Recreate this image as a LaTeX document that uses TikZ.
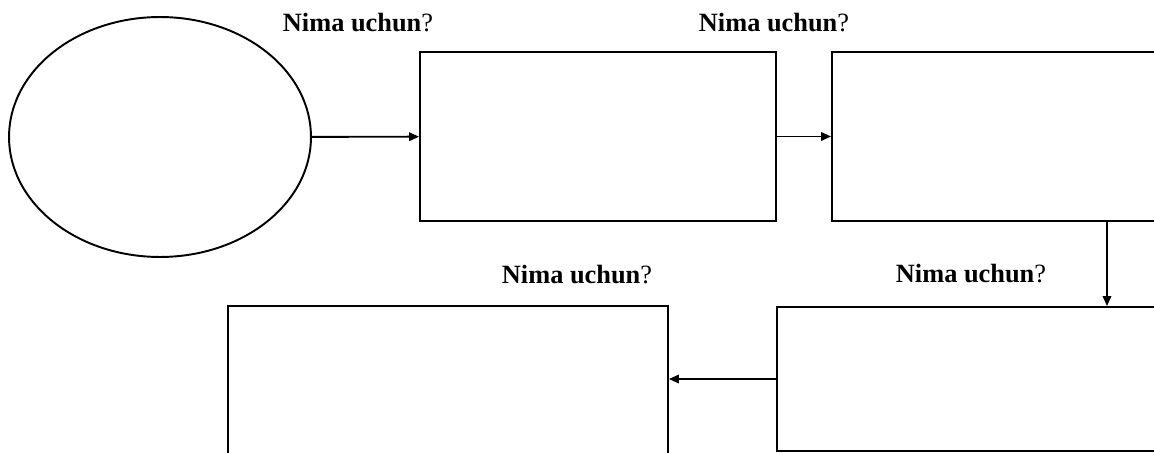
\documentclass[tikz,border=0pt]{standalone}
\usepackage{fontspec}
\setmainfont{Liberation Serif}
\usetikzlibrary{shapes.geometric,arrows.meta}

\tikzstyle{oval}=[ellipse, draw, line width=1.1pt, minimum width=6.04cm, minimum height=4.8cm]
\tikzstyle{blok}=[rectangle, draw, line width=1.1pt, inner sep=0pt]
\tikzstyle{savol}=[font=\fontsize{15}{17}\selectfont]
\tikzstyle{strelka}=[line width=1.1pt, ->]

\begin{document}
\begin{tikzpicture}[x=0.02cm, y=-0.02cm, >={Triangle[length=2mm, width=1.7mm]}]
      \useasboundingbox (0,0) rectangle (1154,453);
      \node[oval] (e) at (160,137) {};
      \node[blok, minimum width=7.12cm, minimum height=3.38cm] (b1) at (598,136.5) {};
      \node[blok, minimum width=7.12cm, minimum height=3.38cm] (b2) at (1010,136.5) {};
      \node[blok, minimum width=8.22cm, minimum height=2.88cm] (b3) at (982,379) {};
      \node[blok, minimum width=8.8cm,  minimum height=3.4cm]  (b4) at (448,391) {};
      \node[savol] (s1) at (358,23)  {\textbf{Nima uchun}?};
      \node[savol] (s2) at (774,23)  {\textbf{Nima uchun}?};
      \node[savol] (s3) at (577,275) {\textbf{Nima uchun}?};
      \node[savol] (s4) at (971,274) {\textbf{Nima uchun}?};
      \coordinate (dn) at (1107,0);
      \draw[strelka] (e)  -- (b1);
      \draw[strelka] (b1) -- (b2);
      \draw[strelka] (dn |- b2.south) -- (dn |- b3.north);
      \draw[strelka] (b3.west) -- (b4.east |- b3.west);
    \end{tikzpicture}
\end{document}
